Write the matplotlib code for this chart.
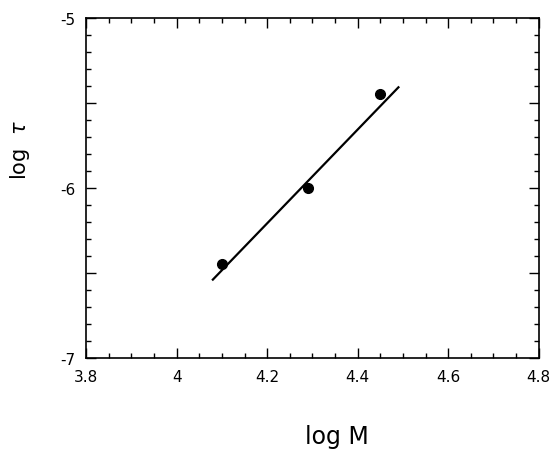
import matplotlib
matplotlib.use('Agg')
import matplotlib.pyplot as plt
from matplotlib.ticker import MultipleLocator, FuncFormatter

# measured points
log_m = [4.10, 4.29, 4.45]
log_tau = [-6.45, -6.00, -5.45]

# fitted line end points
fit_x = [4.08, 4.49]
fit_y = [-6.54, -5.41]

fig = plt.figure(figsize=(5.52, 4.52), dpi=100)
ax = fig.add_axes([0.156, 0.206, 0.82, 0.753])

ax.plot(fit_x, fit_y, color='black', lw=1.6)
ax.plot(log_m, log_tau, 'o', color='black', ms=7)

ax.set_xlim(3.8, 4.8)
ax.set_ylim(-7, -5)
ax.xaxis.set_major_locator(MultipleLocator(0.2))
ax.xaxis.set_minor_locator(MultipleLocator(0.05))
ax.yaxis.set_major_locator(MultipleLocator(0.5))
ax.yaxis.set_minor_locator(MultipleLocator(0.1))
ax.xaxis.set_major_formatter(FuncFormatter(lambda v, p: f'{v:g}'))
ax.yaxis.set_major_formatter(FuncFormatter(lambda v, p: f'{v:g}' if abs(v - round(v)) < 1e-6 else ''))

ax.tick_params(which='both', direction='in', top=True, right=True, width=1, labelsize=11, pad=8)
ax.tick_params(which='major', length=7)
ax.tick_params(which='minor', length=3.5)
for s in ax.spines.values():
    s.set_linewidth(1.2)

fig.text(337 / 552, 1 - 437 / 452, 'log M', fontsize=17, ha='center', va='center')
fig.text(20 / 552, 1 - 150 / 452, r'log  $\tau$', fontsize=15, ha='center', va='center', rotation=90)

fig.savefig('out.png', dpi=100)
